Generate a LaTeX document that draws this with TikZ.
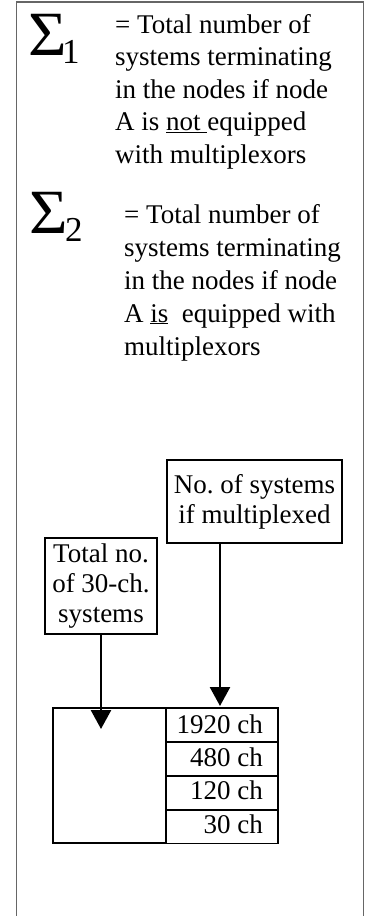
\documentclass[tikz,border=0pt]{standalone}
\usepackage{fontspec}
\setmainfont{Liberation Serif}
\usetikzlibrary{arrows.meta}
\newcommand{\sigsub}[2]{\makebox[#1][l]{\scalebox{1.05}[1]{Σ}}\raisebox{-8pt}{\fontsize{35}{35}\selectfont #2}}
\begin{document}
\begin{tikzpicture}[x=1pt,y=-1pt,
  txt/.style={anchor=base west,inner sep=0,font=\fontsize{27}{32.5}\selectfont},
  sig/.style={anchor=base west,inner sep=0,font=\fontsize{63}{63}\selectfont},
  box/.style={draw,line width=1.3pt,inner sep=0,align=center,font=\fontsize{27}{30}\selectfont},
  cell/.style={draw,line width=1.3pt,inner sep=0,minimum width=112pt,minimum height=33.75pt},
  ctxt/.style={anchor=base east,inner sep=0,font=\fontsize{27}{30}\selectfont},
  arr/.style={line width=2.6pt,-{Triangle[width=20pt,length=19pt]}},
  frame/.style={draw=black!60,line width=1.3pt}]
\useasboundingbox (0,0) rectangle (372,916);
\draw[frame] (16.5,916) -- (16.5,2) -- (363.5,2) -- (363.5,916);
% sigma 1
\node[sig] (s1) at (28,55) {\sigsub{34pt}{1}};
\node[txt] (l1a) at (115,33) {= Total number of};
\node[txt] (l1b) at (115,65.5) {systems terminating};
\node[txt] (l1c) at (115,98) {in the nodes if node};
\node[txt] (l1d) at (115,130.5) {A is \underline{not\ }equipped};
\node[txt] (l1e) at (115,163) {with multiplexors};
% sigma 2
\node[sig] (s2) at (29,233) {\sigsub{36pt}{2}};
\node[txt] (l2a) at (124,223) {= Total number of};
\node[txt] (l2b) at (124,256) {systems terminating};
\node[txt] (l2c) at (124,289) {in the nodes if node};
\node[txt] (l2d) at (124,322) {A \underline{is}\ \ equipped with};
\node[txt] (l2e) at (124,355) {multiplexors};
% boxes
\node[box,minimum width=175pt,minimum height=83pt] (nb) at (254.5,501.5) {No.\ of systems\\if multiplexed};
\node[box,minimum width=112pt,minimum height=96pt] (tot) at (101,586) {Total no.\\of 30-ch.\\systems};
% table
\node[draw,line width=1.3pt,inner sep=0,minimum width=113pt,minimum height=135pt] (lc) at (109.5,775.5) {};
\node[cell] (r1) at (222,725) {};
\node[cell] (r2) at (222,759) {};
\node[cell] (r3) at (222,793) {};
\node[cell] (r4) at (222,826.5) {};
\node[ctxt] (c1) at (263,733) {1920 ch};
\node[ctxt] (c2) at (263,766) {480 ch};
\node[ctxt] (c3) at (263,799) {120 ch};
\node[ctxt] (c4) at (263,833) {30 ch};
% arrows
\coordinate (t1) at (101,729);
\coordinate (t2) at (220,706);
\draw[arr] (tot.south) -- (t1);
\draw[arr] (t2 |- nb.south) -- (t2);
\end{tikzpicture}
\end{document}
